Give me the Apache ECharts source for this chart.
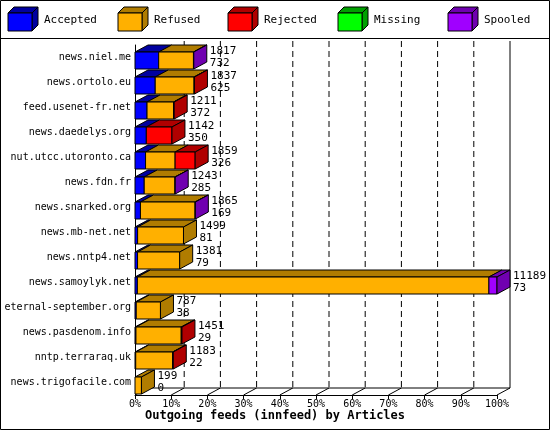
<!DOCTYPE html>
<html><head><meta charset="utf-8">
<script src="https://cdn.jsdelivr.net/npm/echarts@6/dist/echarts.min.js"></script>
<style>html,body{margin:0;padding:0;background:#fff}#c{width:550px;height:430px}</style>
</head><body><div id="c"></div>
<script>
var hosts = ['news.niel.me','news.ortolo.eu','feed.usenet-fr.net','news.daedelys.org','nut.utcc.utoronto.ca','news.fdn.fr','news.snarked.org','news.mb-net.net','news.nntp4.net','news.samoylyk.net','eternal-september.org','news.pasdenom.info','nntp.terraraq.uk','news.trigofacile.com'];
var totals   = [1817, 1837, 1211, 1142, 1859, 1243, 1865, 1499, 1381, 11189, 787, 1451, 1183, 199];
var accepted = [732, 625, 372, 350, 326, 285, 169, 81, 79, 73, 38, 29, 22, 0];
var refused  = [1075, 1202, 819, 0, 914, 953, 1690, 1418, 1302, 10866, 749, 1400, 1141, 199];
var rejected = [0, 10, 20, 792, 619, 0, 0, 0, 0, 0, 0, 22, 20, 0];
var missing  = [0, 0, 0, 0, 0, 0, 0, 0, 0, 0, 0, 0, 0, 0];
var spooled  = [10, 0, 0, 0, 0, 5, 6, 0, 0, 250, 0, 0, 0, 0];
var tickPct = [0, 10, 20, 30, 40, 50, 60, 70, 80, 90, 100];
var legendNames = ['Accepted', 'Refused', 'Rejected', 'Missing', 'Spooled'];

var front = ['#0000ff', '#ffb000', '#ff0000', '#00ff00', '#a000ff'];
var dark  = ['#0000a0', '#b07c00', '#b00000', '#00a000', '#7000b0'];
var DX = 13, DY = 7, BH = 17;
var FONT = '11px "DejaVu Sans Mono", monospace';
var maxTotal = Math.max.apply(null, totals);
var parts = [accepted, refused, rejected, missing, spooled];

function poly(pts, fill) {
  return {type: 'polygon', shape: {points: pts}, style: {fill: fill, stroke: '#000', lineWidth: 1}};
}

var chart = echarts.init(document.getElementById('c'));
var graphics = [{type: 'rect', shape: {x: 0.5, y: 0.5, width: 549, height: 429}, style: {fill: 'none', stroke: '#000'}},
  {type: 'line', shape: {x1: 0, y1: 38.5, x2: 550, y2: 38.5}, style: {stroke: '#000'}}];
legendNames.forEach(function (n, i) {
  var x = 8 + i * 110, y = 7;
  graphics.push({type: 'polygon', shape: {points: [[x, y + 6], [x + 6, y], [x + 30, y], [x + 24, y + 6]]}, style: {fill: dark[i], stroke: '#000'}});
  graphics.push({type: 'polygon', shape: {points: [[x + 24, y + 6], [x + 30, y], [x + 30, y + 18], [x + 24, y + 24]]}, style: {fill: dark[i], stroke: '#000'}});
  graphics.push({type: 'rect', shape: {x: x, y: y + 6, width: 24, height: 18}, style: {fill: front[i], stroke: '#000'}});
  graphics.push({type: 'text', x: x + 36, y: y + 8, style: {text: n, font: FONT, fill: '#000'}});
});
graphics.push({type: 'text', left: 'center', top: 410, style: {text: 'Outgoing feeds (innfeed) by Articles', font: 'bold 12px "DejaVu Sans Mono", monospace', fill: '#000'}});

chart.setOption({
  animation: false,
  grid: {left: 135, right: 53, top: 45, bottom: 35, containLabel: false, outerBoundsMode: 'none'},
  graphic: graphics,
  xAxis: [{type: 'value', min: 0, max: 100, interval: 10, axisLine: {show: true, lineStyle: {color: '#000'}},
    axisTick: {show: true, length: 4, lineStyle: {color: '#000'}}, splitLine: {show: false},
    axisLabel: {color: '#000', fontFamily: 'DejaVu Sans Mono', fontSize: 10, formatter: '{value}%', margin: 4}}],
  yAxis: [{type: 'category', data: hosts, inverse: true, axisLine: {show: true, lineStyle: {color: '#000'}},
    axisTick: {show: false}, axisLabel: {color: '#000', fontFamily: 'DejaVu Sans Mono', fontSize: 10, margin: 4}}],
  series: [{
    type: 'custom', data: tickPct.map(function (t) { return [t]; }), silent: true, z: 1,
    renderItem: function (params, api) {
      var p = api.coord([api.value(0), 0]);
      var x = p[0] + DX, bottom = 430 - 35 - DY, top = 45 - 4;
      var ch = [{type: 'line', shape: {x1: p[0], y1: 395, x2: x, y2: bottom}, style: {stroke: '#000'}}];
      if (api.value(0) === 100) {
        ch.push({type: 'line', shape: {x1: x, y1: top, x2: x, y2: bottom}, style: {stroke: '#000'}});
      } else if (api.value(0) > 0) {
        ch.push({type: 'line', shape: {x1: x, y1: top, x2: x, y2: bottom}, style: {stroke: '#000', lineDash: [6, 4]}});
      }
      if (api.value(0) === 0) {
        ch.push({type: 'line', shape: {x1: x, y1: bottom, x2: api.coord([100, 0])[0] + DX, y2: bottom}, style: {stroke: '#000'}});
      }
      return {type: 'group', children: ch};
    }
  }, {
    type: 'custom', z: 2, silent: true,
    data: hosts.map(function (h, i) { return [i]; }),
    renderItem: function (params, api) {
      var i = api.value(0);
      var c = api.coord([0, i]);
      var y0 = c[1] - BH / 2 + 3, ch = [], acc = 0, last = 1;
      parts.forEach(function (arr, k) {
        if (!arr[i]) return;
        var a = api.coord([acc / maxTotal * 100, i])[0];
        acc += arr[i];
        var b = api.coord([acc / maxTotal * 100, i])[0];
        ch.push(poly([[a, y0], [a + DX, y0 - DY], [b + DX, y0 - DY], [b, y0]], dark[k]));
        ch.push({type: 'rect', shape: {x: a, y: y0, width: b - a, height: BH}, style: {fill: front[k], stroke: '#000'}});
        last = k;
      });
      var e = api.coord([acc / maxTotal * 100, i])[0];
      ch.push(poly([[e, y0], [e + DX, y0 - DY], [e + DX, y0 + BH - DY], [e, y0 + BH]], dark[last]));
      ch.push({type: 'text', x: e + DX + 3, y: y0 - 6, style: {text: String(totals[i]), font: FONT, fill: '#000'}});
      ch.push({type: 'text', x: e + DX + 3, y: y0 + 6, style: {text: String(accepted[i]), font: FONT, fill: '#000'}});
      return {type: 'group', children: ch};
    }
  }]
});
</script></body></html>
